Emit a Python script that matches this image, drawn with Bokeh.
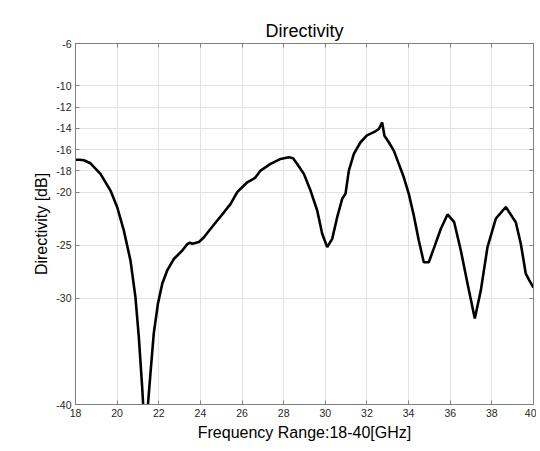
from bokeh.plotting import figure
from bokeh.models import LinearAxis, FixedTicker, Range1d, CustomJSTickFormatter
from bokeh.embed import file_html
from bokeh.resources import INLINE

freq_ghz = [18.0, 18.2, 18.4, 18.72, 19.2, 19.68, 20.0, 20.32, 20.64, 20.88, 21.04, 21.2,
            21.25, 21.36, 21.48, 21.6, 21.76, 21.96, 22.17, 22.4, 22.72, 23.13, 23.37, 23.5,
            23.61, 23.93, 24.17, 24.49, 24.81, 25.13, 25.45, 25.77, 26.25, 26.55, 26.65, 26.89,
            27.37, 27.85, 28.25, 28.45, 28.65, 28.97, 29.29, 29.61, 29.85, 30.09, 30.33, 30.57,
            30.81, 30.97, 31.13, 31.37, 31.69, 32.0, 32.41, 32.57, 32.73, 32.84, 33.05, 33.29,
            33.53, 33.77, 34.01, 34.25, 34.49, 34.73, 34.97, 35.23, 35.55, 35.87, 36.19, 36.51,
            36.83, 37.18, 37.47, 37.79, 38.19, 38.67, 39.15, 39.39, 39.63, 39.8, 40.0]
directivity_db = [-16.95, -16.95, -17.0, -17.28, -18.28, -19.85, -21.4, -23.6, -26.43, -29.9, -33.6, -38.3,
                  -40.0, -46.0, -40.0, -37.1, -33.3, -30.5, -28.6, -27.4, -26.3, -25.5, -24.9, -24.75,
                  -24.86, -24.7, -24.25, -23.45, -22.67, -21.9, -21.1, -20.0, -19.07, -18.75, -18.6, -17.97,
                  -17.34, -16.87, -16.72, -16.8, -17.34, -18.28, -19.85, -21.73, -23.92, -25.18, -24.4, -22.36,
                  -20.63, -20.16, -17.97, -16.4, -15.3, -14.65, -14.27, -14.05, -13.43, -14.68, -15.3, -16.09,
                  -17.34, -18.6, -20.16, -22.2, -24.55, -26.6, -26.6, -25.2, -23.45, -22.1, -22.83, -25.5,
                  -28.6, -31.9, -29.25, -25.18, -22.5, -21.4, -22.83, -24.86, -27.68, -28.3, -29.0]

x_ticks = [18, 20, 22, 24, 26, 28, 30, 32, 34, 36, 38, 40]
y_ticks = [-6, -10, -12, -14, -16, -18, -20, -25, -30, -40]

FONT = "Liberation Sans"
AX = "#808080"
TXT = "#262626"

p = figure(width=536, height=446, output_backend="svg", toolbar_location=None,
           x_range=Range1d(18, 40), y_range=Range1d(-40, -6),
           min_border_left=75, min_border_right=3, min_border_top=43, min_border_bottom=42,
           title="Directivity")
p.title.align = "center"
p.title.text_font = FONT
p.title.text_font_size = "18px"
p.title.text_font_style = "normal"
p.title.text_color = "#000000"
p.title.standoff = 6

p.line(freq_ghz, directivity_db, line_color="black", line_width=2.6)

plain = CustomJSTickFormatter(code="return String(tick);")
p.xaxis.ticker = FixedTicker(ticks=x_ticks)
p.yaxis.ticker = FixedTicker(ticks=y_ticks)
p.xaxis.formatter = plain
p.yaxis.formatter = plain
p.xaxis.axis_label = "Frequency Range:18-40[GHz]"
p.yaxis.axis_label = "Directivity [dB]"
for ax in [p.xaxis[0], p.yaxis[0]]:
    ax.axis_label_text_font = FONT
    ax.axis_label_text_font_size = "16px"
    ax.axis_label_text_font_style = "normal"
    ax.axis_label_text_color = "#000000"
    ax.major_label_text_font = FONT
    ax.major_label_text_font_size = "10.5px"
    ax.major_label_text_color = TXT
    ax.major_tick_in = 4
    ax.major_tick_out = 0
    ax.minor_tick_in = 0
    ax.minor_tick_out = 0
    ax.axis_line_color = AX
    ax.major_tick_line_color = AX
    ax.major_label_standoff = 4
p.xaxis.axis_label_standoff = 4
p.yaxis.axis_label_standoff = 3

blank = CustomJSTickFormatter(code="return '';")
for loc, ticks in [("above", x_ticks), ("right", y_ticks)]:
    a = LinearAxis(ticker=FixedTicker(ticks=ticks), formatter=blank,
                   major_label_standoff=0, major_tick_in=4, major_tick_out=0,
                   minor_tick_in=0, minor_tick_out=0, axis_line_color=AX,
                   major_tick_line_color=AX)
    p.add_layout(a, loc)

p.xgrid.ticker = FixedTicker(ticks=x_ticks)
p.ygrid.ticker = FixedTicker(ticks=y_ticks)
p.grid.grid_line_color = "#e3e3e3"
p.grid.grid_line_width = 1
p.outline_line_color = AX

open("out.html", "w").write(file_html(p, INLINE))
